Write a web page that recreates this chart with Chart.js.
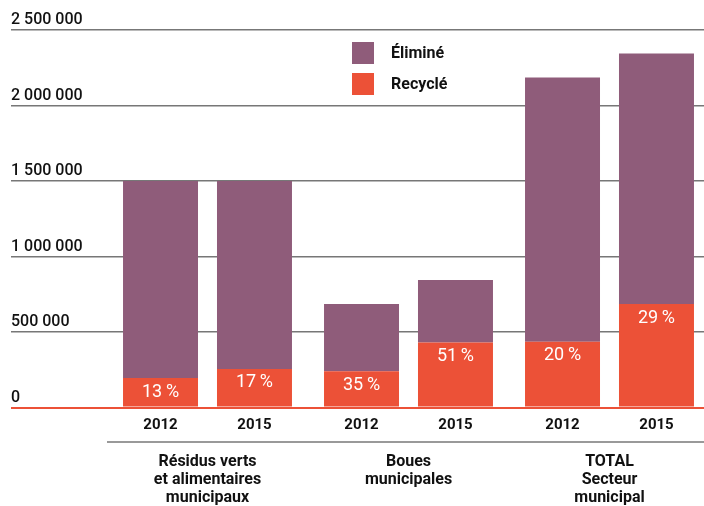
<!DOCTYPE html>
<html lang="fr">
<head>
<meta charset="utf-8">
<title>Éliminé / Recyclé</title>
<script src="https://cdn.jsdelivr.net/npm/chart.js@4/dist/chart.umd.min.js"></script>
<style>
  html, body { margin: 0; padding: 0; background: #fff; overflow: hidden; }
  #wrap { width: 710px; height: 506px; }
</style>
</head>
<body>
<div id="wrap"><canvas id="chart" width="710" height="506"></canvas></div>
<script>
// data
const groups = [
  ['Résidus verts', 'et alimentaires', 'municipaux'],
  ['Boues', 'municipales'],
  ['TOTAL', 'Secteur', 'municipal']
];
const years = ['2012', '2015'];
const recycle2012 = [195000, 240000, 435000];
const elimine2012 = [1305000, 445000, 1750000];
const recycle2015 = [255000, 430000, 685000];
const elimine2015 = [1245000, 415000, 1660000];
const pct2012 = [13, 35, 20];
const pct2015 = [17, 51, 29];
const yTicks = [0, 500000, 1000000, 1500000, 2000000, 2500000];

const PURPLE = '#8f5c7a';
const RED = '#ec5137';
const GRID = '#777777';
const FONT = 'Roboto, "Noto Sans", sans-serif';

const fmt = v => String(v).replace(/\B(?=(\d{3})+(?!\d))/g, ' ');

// legend, years under the bars, percentages, separator line
const extras = {
  id: 'extras',
  afterDatasetsDraw(chart) {
    const ctx = chart.ctx;
    const area = chart.chartArea;
    ctx.save();

    // percentages on the red segments
    ctx.fillStyle = '#fff';
    ctx.font = '400 18px ' + FONT;
    ctx.textAlign = 'center';
    ctx.textBaseline = 'middle';
    [[0, pct2012], [2, pct2015]].forEach(([dsIndex, pcts]) => {
      chart.getDatasetMeta(dsIndex).data.forEach((bar, i) => {
        ctx.fillText(pcts[i] + '\u2009%', bar.x, bar.y + 14);
      });
    });

    // years below the axis
    ctx.fillStyle = '#111';
    ctx.font = '700 15px ' + FONT;
    [0, 2].forEach((dsIndex, k) => {
      chart.getDatasetMeta(dsIndex).data.forEach(bar => {
        ctx.fillText(years[k], bar.x, area.bottom + 18);
      });
    });

    // separator line above the group names
    ctx.strokeStyle = GRID;
    ctx.lineWidth = 1.5;
    ctx.beginPath();
    ctx.moveTo(area.left, area.bottom + 34.5);
    ctx.lineTo(area.right, area.bottom + 34.5);
    ctx.stroke();

    // legend
    const items = [chart.data.datasets[1], chart.data.datasets[0]];
    items.forEach((ds, i) => {
      const top = 42 + i * 31;
      ctx.fillStyle = ds.backgroundColor;
      ctx.fillRect(352, top, 22, 22);
      ctx.fillStyle = '#111';
      ctx.font = '700 16px ' + FONT;
      ctx.textAlign = 'left';
      ctx.fillText(ds.label, 391, top + 12);
    });
    ctx.restore();
  }
};

new Chart(document.getElementById('chart'), {
  type: 'bar',
  data: {
    labels: groups,
    datasets: [
      { label: 'Recyclé', data: recycle2012, stack: 's2012', backgroundColor: RED },
      { label: 'Éliminé', data: elimine2012, stack: 's2012', backgroundColor: PURPLE },
      { label: 'Recyclé', data: recycle2015, stack: 's2015', backgroundColor: RED },
      { label: 'Éliminé', data: elimine2015, stack: 's2015', backgroundColor: PURPLE }
    ]
  },
  options: {
    responsive: false,
    animation: false,
    categoryPercentage: 0.935,
    barPercentage: 0.798,
    layout: { padding: { left: 11, top: 30, right: 0, bottom: 0 } },
    plugins: {
      legend: { display: false },
      tooltip: { enabled: false }
    },
    scales: {
      x: {
        stacked: true,
        grid: { display: false },
        border: { display: false },
        ticks: {
          color: '#111',
          font: { family: FONT, size: 16, weight: '700', lineHeight: 1.1 },
          padding: 38,
          maxRotation: 0,
          autoSkip: false
        },
        afterFit: scale => { scale.height = 98.5; }
      },
      y: {
        stacked: true,
        min: 0,
        max: 2500000,
        afterBuildTicks: scale => { scale.ticks = yTicks.map(v => ({ value: v })); },
        afterFit: scale => { scale.width = 96; },
        border: { display: false },
        grid: {
          color: c => (c.tick && c.tick.value === 0 ? RED : GRID),
          lineWidth: c => (c.tick && c.tick.value === 0 ? 2 : 1.4),
          drawTicks: true,
          tickLength: 96
        },
        ticks: {
          crossAlign: 'far',
          padding: 0,
          labelOffset: -10,
          color: '#111',
          font: { family: FONT, size: 16, weight: '500' },
          callback: v => fmt(v)
        }
      }
    }
  },
  plugins: [extras]
});
</script>
</body>
</html>
